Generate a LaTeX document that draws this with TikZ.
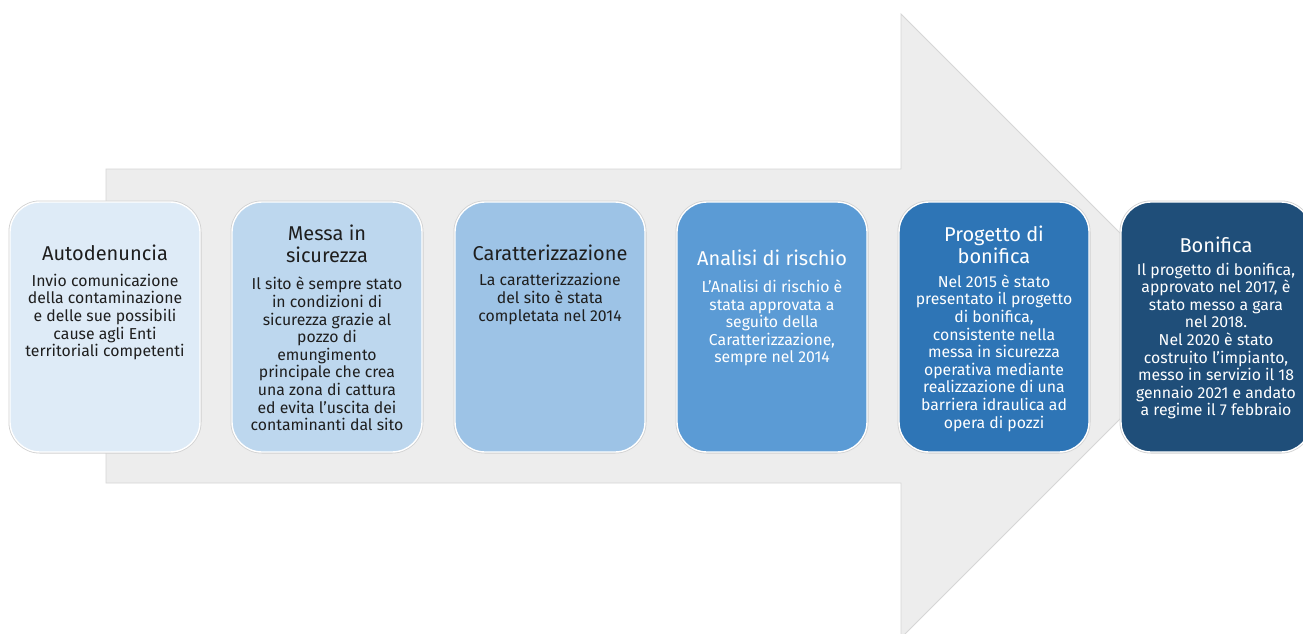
\documentclass[tikz,border=0pt]{standalone}
\usepackage{fontspec}
\setmainfont{Fira Sans}
\definecolor{arrowfill}{HTML}{EDEDED}
\definecolor{arrowline}{HTML}{D6D6D6}
\definecolor{cA}{HTML}{DEEBF7}
\definecolor{cB}{HTML}{BDD7EE}
\definecolor{cC}{HTML}{9DC3E6}
\definecolor{cD}{HTML}{5B9BD5}
\definecolor{cE}{HTML}{2E75B6}
\definecolor{cF}{HTML}{1F4E79}
\definecolor{darktext}{HTML}{1E1E1E}
\tikzset{
  stagebox/.style={rectangle, rounded corners=30pt, minimum width=190pt, minimum height=250pt,
    draw=white, line width=1.4pt, preaction={draw=black!18, line width=3pt}},
  titletext/.style={align=center, inner sep=0pt, font=\fontsize{20}{22}\selectfont},
  bodytext/.style={align=center, inner sep=0pt, font=\fontsize{15.8}{17.6}\selectfont},
}
\begin{document}
\begin{tikzpicture}[x=1pt,y=-1pt]
\useasboundingbox (0,0) rectangle (1303,633);
\clip (0,0) rectangle (1303,633);
\fill[white] (0,0) rectangle (1303,633);
\draw[fill=arrowfill, draw=arrowline, line width=0.8pt]
  (106,169) -- (901,169) -- (901,14) -- (1213,326) -- (901,638) -- (901,483) -- (106,483) -- cycle;

\node[stagebox, fill=cA] (b1) at (105,327) {};
\node[stagebox, fill=cB] (b2) at (327,327) {};
\node[stagebox, fill=cC] (b3) at (550,327) {};
\node[stagebox, fill=cD] (b4) at (772,327) {};
\node[stagebox, fill=cE] (b5) at (994,327) {};
\node[stagebox, fill=cF] (b6) at (1216,327) {};

\node[titletext, text=darktext] (t1) at (105,253) {Autodenuncia};
\node[bodytext, text=darktext] (d1) at (105,317) {Invio comunicazione\\della contaminazione\\e delle sue possibili\\cause agli Enti\\territoriali competenti};

\node[titletext, text=darktext] (t2) at (327,244) {Messa in\\sicurezza};
\node[bodytext, text=darktext] (d2) at (327,354) {Il sito è sempre stato\\in condizioni di\\sicurezza grazie al\\pozzo di\\emungimento\\principale che crea\\una zona di cattura\\ed evita l’uscita dei\\contaminanti dal sito};

\node[titletext, text=darktext] (t3) at (550,253) {Caratterizzazione};
\node[bodytext, text=darktext] (d3) at (550,299) {La caratterizzazione\\del sito è stata\\completata nel 2014};

\node[titletext, text=white] (t4) at (772,258) {Analisi di rischio};
\node[bodytext, text=white] (d4) at (772,323) {L’Analisi di rischio è\\stata approvata a\\seguito della\\Caratterizzazione,\\sempre nel 2014};

\node[titletext, text=white] (t5) at (994,245) {Progetto di\\bonifica};
\node[bodytext, text=white] (d5) at (994,353) {Nel 2015 è stato\\presentato il progetto\\di bonifica,\\consistente nella\\messa in sicurezza\\operativa mediante\\realizzazione di una\\barriera idraulica ad\\opera di pozzi};

\node[titletext, text=white] (t6) at (1216,245) {Bonifica};
\node[bodytext, text=white] (d6) at (1216,341) {Il progetto di bonifica,\\approvato nel 2017, è\\stato messo a gara\\nel 2018.\\Nel 2020 è stato\\costruito l’impianto,\\messo in servizio il 18\\gennaio 2021 e andato\\a regime il 7 febbraio};
\end{tikzpicture}
\end{document}
